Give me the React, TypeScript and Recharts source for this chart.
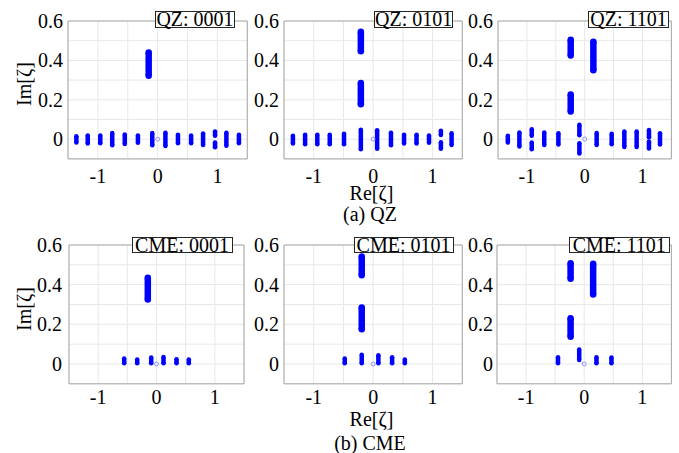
import React from 'react';
import { ScatterChart, Scatter, XAxis, YAxis, CartesianGrid, ReferenceArea } from 'recharts';

// each cluster: [Re, Im low, Im high]
type Cluster = [number, number, number];

const qz0001: Cluster[] = [
  [-1.36, -0.017, 0.015], [-1.17, -0.022, 0.019], [-0.96, -0.021, 0.019], [-0.76, -0.031, 0.032],
  [-0.55, -0.024, 0.024], [-0.33, -0.018, 0.019], [-0.09, -0.031, 0.031], [0.13, -0.034, 0.033],
  [0.34, -0.02, 0.022], [0.56, -0.02, 0.019], [0.76, -0.029, 0.029], [0.96, 0.017, 0.039],
  [0.96, -0.041, -0.017], [1.15, -0.033, 0.033], [1.36, -0.02, 0.022],
  [-0.15, 0.322, 0.44],
];

const qz0101: Cluster[] = [
  [-1.35, -0.022, 0.017], [-1.145, -0.026, 0.022], [-0.94, -0.026, 0.022], [-0.73, -0.026, 0.022],
  [-0.49, -0.026, 0.027], [-0.207, -0.051, 0.048], [0.067, -0.048, 0.045], [0.3, -0.031, 0.033],
  [0.52, -0.022, 0.022], [0.73, -0.022, 0.022], [0.94, -0.018, 0.019], [1.14, 0.021, 0.043],
  [1.14, -0.048, -0.015], [1.32, -0.03, 0.03],
  [-0.207, 0.447, 0.545], [-0.207, 0.178, 0.285],
];

const qz1101: Cluster[] = [
  [-1.33, -0.017, 0.017], [-1.13, -0.037, 0.034], [-0.916, 0.017, 0.051], [-0.916, -0.051, -0.017],
  [-0.7, -0.03, 0.034], [-0.455, -0.027, 0.03], [-0.092, 0.02, 0.073], [-0.092, -0.073, -0.02],
  [0.207, -0.03, 0.032], [0.467, -0.026, 0.027], [0.686, -0.039, 0.039], [0.899, -0.039, 0.039],
  [1.112, 0.01, 0.047], [1.112, -0.047, -0.012], [1.303, -0.027, 0.03],
  [-0.242, 0.425, 0.505], [-0.242, 0.14, 0.227], [0.15, 0.35, 0.495],
];

const cme0001: Cluster[] = [
  [-0.554, 0.004, 0.027], [-0.331, 0.004, 0.023], [-0.091, 0.004, 0.032], [0.12, 0.004, 0.035],
  [0.343, 0.004, 0.024], [0.554, 0.004, 0.023],
  [-0.149, 0.325, 0.435],
];

const cme0101: Cluster[] = [
  [-0.478, 0.004, 0.027], [-0.192, 0.004, 0.047], [0.088, 0.004, 0.044], [0.319, 0.004, 0.034],
  [0.533, 0.004, 0.022],
  [-0.192, 0.447, 0.542], [-0.192, 0.175, 0.285],
];

const cme1101: Cluster[] = [
  [-0.451, 0.004, 0.034], [-0.086, 0.02, 0.073], [0.211, 0.004, 0.034], [0.469, 0.004, 0.032],
  [-0.234, 0.43, 0.508], [-0.234, 0.137, 0.23], [0.154, 0.35, 0.505],
];

// stray point sitting on the origin in every panel
const origin = [{ x: 0, y: 0 }];

const xTicks = [-1, -0.5, 0, 0.5, 1];
const yTicks = [0, 0.1, 0.2, 0.3, 0.4, 0.5, 0.6];
const yLabelled = [0, 0.2, 0.4, 0.6];

const BLUE = '#0000ff';
const FONT = "'Liberation Serif', serif";

type PanelDef = {
  data: Cluster[];
  title: string;
  plot: { x: number; y: number; w: number; h: number };
  box: { x: number; y: number; w: number; h: number };
  xGap: number;
  yGap: number;
};

const panels: PanelDef[] = [
  { data: qz0001, title: 'QZ: 0001', plot: { x: 67.7, y: 21.3, w: 179.3, h: 137.9 }, box: { x: 155, y: 11, w: 80, h: 17 }, xGap: 10, yGap: 5 },
  { data: qz0101, title: 'QZ: 0101', plot: { x: 283.7, y: 21.3, w: 178.3, h: 137.9 }, box: { x: 374, y: 11, w: 79, h: 17 }, xGap: 10, yGap: 5 },
  { data: qz1101, title: 'QZ: 1101', plot: { x: 498.3, y: 21.3, w: 173.4, h: 137.9 }, box: { x: 588, y: 11, w: 81, h: 17 }, xGap: 10, yGap: 5 },
  { data: cme0001, title: 'CME: 0001', plot: { x: 68.7, y: 244.5, w: 175, h: 138.8 }, box: { x: 131.5, y: 237, w: 101, h: 16 }, xGap: 6, yGap: 7 },
  { data: cme0101, title: 'CME: 0101', plot: { x: 283.7, y: 244.5, w: 178.3, h: 138.8 }, box: { x: 353.5, y: 237, w: 100, h: 16 }, xGap: 6, yGap: 5 },
  { data: cme1101, title: 'CME: 1101', plot: { x: 497.3, y: 244.5, w: 174.4, h: 138.8 }, box: { x: 568.5, y: 236.5, w: 101.5, h: 16 }, xGap: 6, yGap: 4 },
];

const Y_AXIS_W = 50;
const X_AXIS_H = 32;
const TOP = 14;

const tickStyle = { fontFamily: FONT, fontSize: 20 };

const XTick = (props: any) => {
  const v = props.payload.value;
  return (
    <text x={props.x} y={props.y} dy="0.71em" textAnchor="middle" fill="#000" style={tickStyle}>
      {Number.isInteger(v) ? String(v) : ''}
    </text>
  );
};

const YTick = (props: any) => {
  const v = props.payload.value;
  return (
    <text x={props.x} y={props.y} dy="0.355em" textAnchor="end" fill="#000" style={tickStyle}>
      {yLabelled.includes(v) ? String(v) : ''}
    </text>
  );
};

function Panel({ p }: { p: PanelDef }) {
  const { plot } = p;
  const width = plot.w + Y_AXIS_W + 5;
  const height = plot.h + TOP + X_AXIS_H;
  return (
    <>
      <div style={{ position: 'absolute', left: plot.x - Y_AXIS_W, top: plot.y - TOP }}>
        <ScatterChart width={width} height={height} margin={{ top: TOP, right: 5, bottom: 0, left: 0 }}>
          <CartesianGrid stroke="#e8e8e8" strokeWidth={1} />
          <XAxis
            type="number"
            dataKey="x"
            domain={[-1.5, 1.5]}
            ticks={xTicks}
            interval={0}
            allowDataOverflow
            height={X_AXIS_H}
            axisLine={false}
            tickLine={false}
            tickSize={0}
            tickMargin={p.xGap}
            tick={XTick}
          />
          <YAxis
            type="number"
            dataKey="y"
            domain={[-0.1, 0.6]}
            ticks={yTicks}
            interval={0}
            allowDataOverflow
            width={Y_AXIS_W}
            axisLine={false}
            tickLine={false}
            tickSize={0}
            tickMargin={p.yGap}
            tick={YTick}
          />
          <ReferenceArea x1={-1.5} x2={1.5} y1={-0.1} y2={0.6} fill="none" stroke="#a8a8a8" strokeWidth={1} />
          {p.data.map(([re, lo, hi], i) => {
            const w = lo > 0.1 ? 6.5 : 4.5;
            return (
              <Scatter
                key={i}
                data={[{ x: re, y: lo }, { x: re, y: hi }]}
                fill={BLUE}
                line={{ stroke: BLUE, strokeWidth: w }}
                shape={(s: any) => <circle cx={s.cx} cy={s.cy} r={w / 2} fill={BLUE} />}
                isAnimationActive={false}
              />
            );
          })}
          <Scatter
            data={origin}
            shape={(s: any) => <circle cx={s.cx} cy={s.cy} r={2} fill="none" stroke="#7b7bff" strokeWidth={0.8} />}
            isAnimationActive={false}
          />
        </ScatterChart>
      </div>
      <div
        style={{
          position: 'absolute',
          left: p.box.x,
          top: p.box.y,
          width: p.box.w,
          height: p.box.h,
          boxSizing: 'border-box',
          border: '1px solid #262626',
          background: '#fff',
          fontFamily: FONT,
          fontSize: 20,
          lineHeight: `${p.box.h - 2}px`,
          textAlign: 'center',
          color: '#000',
          whiteSpace: 'nowrap',
          zIndex: 2,
        }}
      >
        {p.title}
      </div>
    </>
  );
}

export default function App() {
  return (
    <div style={{ position: 'absolute', left: 0, top: 0, width: 679, height: 453, background: '#fff', fontFamily: FONT, overflow: 'hidden' }}>
      {panels.map((p) => (
        <Panel key={p.title} p={p} />
      ))}
      <svg width={679} height={453} style={{ position: 'absolute', left: 0, top: 0, pointerEvents: 'none', zIndex: 3 }}>
        <g fontFamily={FONT} fontSize={20} fill="#000" textAnchor="middle">
          <text x={31} y={84} transform="rotate(-90 31 84)">Im[ζ]</text>
          <text x={31} y={309} transform="rotate(-90 31 309)">Im[ζ]</text>
          <text x={371.5} y={200}>Re[ζ]</text>
          <text x={371.5} y={426}>Re[ζ]</text>
          <text x={370} y={221}>(a) QZ</text>
          <text x={370} y={450}>(b) CME</text>
        </g>
      </svg>
    </div>
  );
}
